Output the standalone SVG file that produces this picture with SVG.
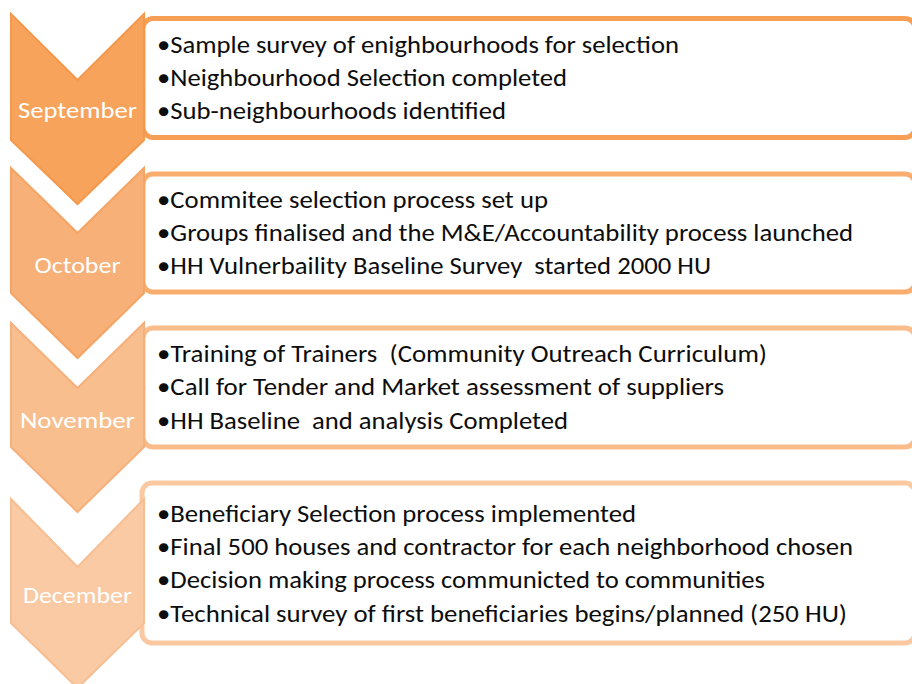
<svg xmlns="http://www.w3.org/2000/svg" width="912" height="684" viewBox="0 0 912 684">
  <style>
    .box { fill: #ffffff; stroke-width: 5; }
    .chev { stroke-width: 2; stroke-linejoin: miter; }
    .item { font-family: Carlito, Calibri, Lato, "Liberation Sans", sans-serif; font-size: 24px; fill: #0d0d0d; }
    .month { font-family: Carlito, Calibri, Lato, "Liberation Sans", sans-serif; font-size: 23px; font-weight: 300; fill: #ffffff; text-anchor: middle; }
  </style>
  <rect width="912" height="684" fill="#ffffff"/>

  <!-- September -->
  <g id="september">
    <rect class="box" x="143" y="18.5" width="772" height="119" rx="10" stroke="#F79F55"/>
    <polygon class="chev" points="11,14 77.5,80 144,14 144,140 77.5,204 11,140" fill="#F7A35C" stroke="#F4994C"/>
    <text class="month" x="77.5" y="118" textLength="119" lengthAdjust="spacingAndGlyphs">September</text>
    <text class="item" x="157" y="53" textLength="522" lengthAdjust="spacingAndGlyphs">•Sample survey of enighbourhoods for selection</text>
    <text class="item" x="157" y="86" textLength="410" lengthAdjust="spacingAndGlyphs">•Neighbourhood Selection completed</text>
    <text class="item" x="157" y="119" textLength="349" lengthAdjust="spacingAndGlyphs">•Sub-neighbourhoods identified</text>
  </g>

  <!-- October -->
  <g id="october">
    <rect class="box" x="143" y="174" width="772" height="118" rx="10" stroke="#F9AE6F"/>
    <polygon class="chev" points="11,168 77.5,233 144,168 144,293 77.5,358 11,293" fill="#F7B077" stroke="#F5A464"/>
    <text class="month" x="77.5" y="273" textLength="86" lengthAdjust="spacingAndGlyphs">October</text>
    <text class="item" x="157" y="208" textLength="391" lengthAdjust="spacingAndGlyphs">•Commitee selection process set up</text>
    <text class="item" x="157" y="241" textLength="696" lengthAdjust="spacingAndGlyphs">•Groups finalised and the M&amp;E/Accountability process launched</text>
    <text class="item" x="157" y="274" textLength="554" lengthAdjust="spacingAndGlyphs" xml:space="preserve">•HH Vulnerbaility Baseline Survey  started 2000 HU</text>
  </g>

  <!-- November -->
  <g id="november">
    <rect class="box" x="143" y="328" width="772" height="119" rx="10" stroke="#F9BC8A"/>
    <polygon class="chev" points="11,323 77.5,388 144,323 144,447 77.5,512 11,447" fill="#F8BE8E" stroke="#F6B07C"/>
    <text class="month" x="77.5" y="428" textLength="115" lengthAdjust="spacingAndGlyphs">November</text>
    <text class="item" x="157" y="362" textLength="610" lengthAdjust="spacingAndGlyphs" xml:space="preserve">•Training of Trainers  (Community Outreach Curriculum)</text>
    <text class="item" x="157" y="395" textLength="567" lengthAdjust="spacingAndGlyphs">•Call for Tender and Market assessment of suppliers</text>
    <text class="item" x="157" y="429" textLength="411" lengthAdjust="spacingAndGlyphs" xml:space="preserve">•HH Baseline  and analysis Completed</text>
  </g>

  <!-- December -->
  <g id="december">
    <rect class="box" x="142" y="483" width="773" height="160" rx="10" stroke="#FAC9A2"/>
    <polygon class="chev" points="11,499 77.5,567 144,499 144,623 77.5,688 11,623" fill="#F9CAA3" stroke="#F7BE92"/>
    <text class="month" x="77.5" y="603" textLength="109" lengthAdjust="spacingAndGlyphs">December</text>
    <text class="item" x="157" y="522" textLength="479" lengthAdjust="spacingAndGlyphs">•Beneficiary Selection process implemented</text>
    <text class="item" x="157" y="555" textLength="696" lengthAdjust="spacingAndGlyphs">•Final 500 houses and contractor for each neighborhood chosen</text>
    <text class="item" x="157" y="588" textLength="608" lengthAdjust="spacingAndGlyphs">•Decision making process communicted to communities</text>
    <text class="item" x="157" y="622" textLength="690" lengthAdjust="spacingAndGlyphs">•Technical survey of first beneficiaries begins/planned (250 HU)</text>
  </g>
</svg>
